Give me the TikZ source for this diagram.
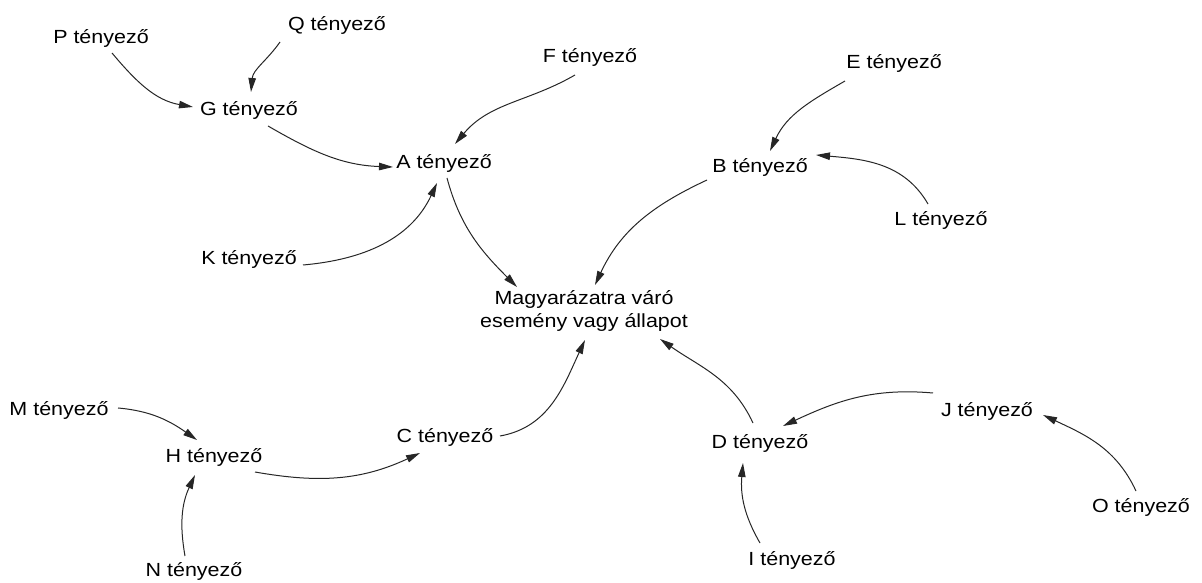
\documentclass[tikz,border=0pt]{standalone}
\usepackage{fontspec}
\setmainfont{Liberation Sans}[FakeStretch=1.13]
\usepackage{tikz}
\usetikzlibrary{arrows.meta}

\begin{document}
\begin{tikzpicture}[
        x=1pt, y=1pt,
        factor/.style={inner sep=0pt, align=center, text=black, font=\fontsize{19}{23}\selectfont},
        arrow/.style={-{Triangle[length=14pt, width=7.5pt]}, line width=1pt, black!85}
    ]
        \useasboundingbox (0,0) rectangle (1202,583);

        % Top left
        \node[factor] (p) at (101,545) {P tényező};
        \node[factor] (q) at (337,558) {Q tényező};
        \node[factor] (g) at (249,473) {G tényező};
        \node[factor] (f) at (590,526) {F tényező};
        \node[factor] (a) at (444,420) {A tényező};
        \node[factor] (k) at (249,324) {K tényező};

        % Top right
        \node[factor] (e) at (894,520) {E tényező};
        \node[factor] (b) at (760,416) {B tényező};
        \node[factor] (l) at (941,363) {L tényező};

        % Event
        \node[factor] (event) at (584,272) {Magyarázatra váró\\esemény vagy állapot};

        % Bottom left
        \node[factor] (m) at (59,173) {M tényező};
        \node[factor] (h) at (214,126) {H tényező};
        \node[factor] (n) at (194,12) {N tényező};
        \node[factor] (c) at (445,146) {C tényező};

        % Bottom right
        \node[factor] (d) at (760,140) {D tényező};
        \node[factor] (j) at (987,172) {J tényező};
        \node[factor] (o) at (1141,76) {O tényező};
        \node[factor] (i) at (792,23) {I tényező};

        \draw[arrow] ([shift={(11,-15)}]p.center) to[out=-50, in=170] ([shift={(-56,3)}]g.center);
        \draw[arrow] ([shift={(-57,-17)}]q.center) to[out=-125, in=85] ([shift={(2,18)}]g.center);
        \draw[arrow] ([shift={(19,-16)}]g.center) to[out=-30, in=178] ([shift={(-51,-4)}]a.center);
        \draw[arrow] ([shift={(-15,-18)}]f.center) to[out=-150, in=50] ([shift={(11,19)}]a.center);
        \draw[arrow] ([shift={(54,-6)}]k.center) to[out=5, in=-115] ([shift={(-7,-20)}]a.center);
        \draw[arrow] ([shift={(3,-15)}]a.center) to[out=-75, in=135] ([shift={(-67,24)}]event.center);
        \draw[arrow] ([shift={(-49,-18)}]e.center) to[out=-150, in=65] ([shift={(10,16)}]b.center);
        \draw[arrow] ([shift={(-13,16)}]l.center) to[out=120, in=-5] ([shift={(56,12)}]b.center);
        \draw[arrow] ([shift={(-53,-13)}]b.center) to[out=-155, in=65] ([shift={(11,26)}]event.center);
        \draw[arrow] ([shift={(55,1)}]c.center) to[out=10, in=-115] ([shift={(1,-29)}]event.center);
        \draw[arrow] ([shift={(-7,20)}]d.center) to[out=115, in=-35] ([shift={(76,-28)}]event.center);
        \draw[arrow] ([shift={(59,2)}]m.center) to[out=-5, in=145] ([shift={(-17,17)}]h.center);
        \draw[arrow] ([shift={(-9,15)}]n.center) to[out=100, in=-115] ([shift={(-19,-18)}]h.center);
        \draw[arrow] ([shift={(41,-15)}]h.center) to[out=-10, in=-155] ([shift={(-25,-16)}]c.center);
        \draw[arrow] ([shift={(-54,18)}]j.center) to[out=175, in=25] ([shift={(23,17)}]d.center);
        \draw[arrow] ([shift={(-5,16)}]o.center) to[out=115, in=-25] ([shift={(56,-4)}]j.center);
        \draw[arrow] ([shift={(-32,17)}]i.center) to[out=120, in=-95] ([shift={(-17,-20)}]d.center);
    \end{tikzpicture}
\end{document}
